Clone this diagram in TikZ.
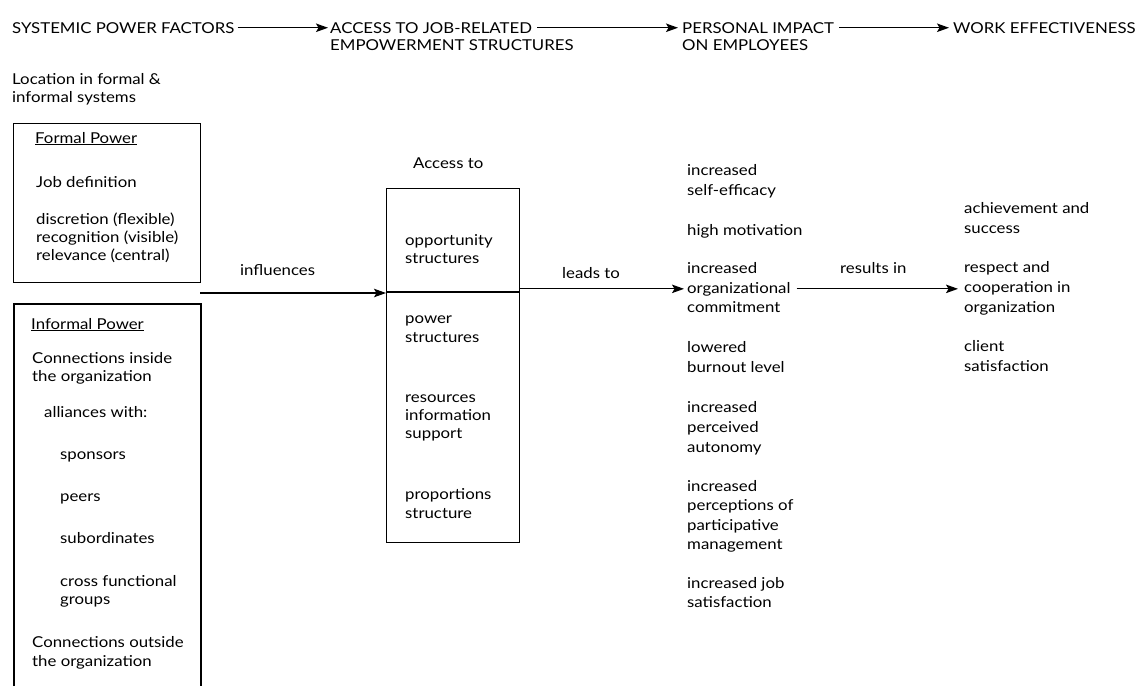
\documentclass[tikz,border=0pt]{standalone}
\usepackage{fontspec}
\setmainfont{Lato}[FakeStretch=1.12]
\usetikzlibrary{arrows.meta}
\begin{document}
\begin{tikzpicture}[x=1pt,y=-1pt,
  txt/.style={anchor=base west, inner sep=0pt, font=\fontsize{15}{18}\selectfont},
  ttl/.style={anchor=base west, inner sep=0pt, font=\fontsize{15}{18}\selectfont, text height=10.5pt, text depth=0pt},
  arr/.style={-{Stealth[length=12pt,width=8.5pt,inset=2.5pt]}, line width=1.1pt},
  box/.style={draw, line width=1.1pt, rectangle, inner sep=0pt, anchor=north west}]
\useasboundingbox (0,0) rectangle (1138,686);

% title row
\node[ttl] (t1) at (12,33) {SYSTEMIC POWER FACTORS};
\node[ttl] (t2) at (330,33) {ACCESS TO JOB-RELATED};
\node[ttl] (t2b) at (330,50) {EMPOWERMENT STRUCTURES};
\node[ttl] (t3) at (682,33) {PERSONAL IMPACT};
\node[ttl] (t3b) at (682,50) {ON EMPLOYEES};
\node[ttl] (t4) at (953,33) {WORK EFFECTIVENESS};
\draw[arr] ([xshift=3pt]t1.east) -- ([xshift=-2pt]t2.west);
\draw[arr] ([xshift=5pt]t2.east) -- ([xshift=-4pt]t3.west);
\draw[arr] ([xshift=5pt]t3.east) -- ([xshift=-4pt]t4.west);

% location
\node[txt] (loc1) at (12,84) {Location in formal \&};
\node[txt] (loc2) at (12,102) {informal systems};

% formal box
\node[box, minimum width=187pt, minimum height=159pt] (formal) at (13,123) {};
\node[txt] (f1) at (35,143) {\underline{Formal Power}};
\node[txt] (f2) at (36,187) {Job definition};
\node[txt] (f3) at (36,224) {discretion (flexible)};
\node[txt] (f4) at (36,242) {recognition (visible)};
\node[txt] (f5) at (36,260) {relevance (central)};

% informal box (open at bottom)
\coordinate (ib1) at (14,686);
\coordinate (ib2) at (14,304);
\coordinate (ib3) at (201,304);
\coordinate (ib4) at (201,686);
\draw[line width=1.1pt] (ib1) -- (ib2) -- (ib3) -- (ib4);
\node[txt] (i1) at (31,329) {\underline{Informal Power}};
\node[txt] (i2) at (32,363) {Connections inside};
\node[txt] (i3) at (32,381) {the organization};
\node[txt] (i4) at (44,417) {alliances with:};
\node[txt] (i5) at (60,459) {sponsors};
\node[txt] (i6) at (60,501) {peers};
\node[txt] (i7) at (60,543) {subordinates};
\node[txt] (i8) at (60,586) {cross functional};
\node[txt] (i9) at (60,604) {groups};
\node[txt] (i10) at (32,647) {Connections outside};
\node[txt] (i11) at (32,666) {the organization};

% influences
\coordinate (inf) at (200,293);
\node[txt] (infl) at (240,275) {influences};

% access box
\node[txt] (acct) at (413,168) {Access to};
\node[box, minimum width=133pt, minimum height=354pt] (acc) at (386,188) {};
\coordinate (div) at (386,292);
\draw[line width=1.1pt] (div) -- (acc.east |- div);
\draw[arr] (inf) -- (acc.west |- inf);
\node[txt] (a1) at (405,245) {opportunity};
\node[txt] (a2) at (405,263) {structures};
\node[txt] (a3) at (405,323) {power};
\node[txt] (a4) at (405,342) {structures};
\node[txt] (a5) at (405,402) {resources};
\node[txt] (a6) at (405,420) {information};
\node[txt] (a7) at (405,438) {support};
\node[txt] (a8) at (405,499) {proportions};
\node[txt] (a9) at (405,518) {structure};

% middle column
\foreach \yy/\t [count=\i] in {175/increased, 195/self-efficacy, 235/high motivation,
  273/increased, 293/organizational, 312/commitment, 352/lowered, 372/burnout level,
  412/increased, 432/perceived, 452/autonomy, 491/increased, 510/perceptions of,
  530/participative, 549/management, 588/increased job, 607/satisfaction}
  \node[txt] (m\i) at (687,\yy) {\t};

\node[txt] (leads) at (562,278) {leads to};
\draw[arr] (acc.east |- m5.west) -- ([xshift=-3pt]m5.west);

% right column
\foreach \yy/\t [count=\i] in {213/achievement and, 233/success, 272/respect and,
  292/cooperation in, 312/organization, 351/client, 371/satisfaction}
  \node[txt] (r\i) at (964,\yy) {\t};

\node[txt] (res) at (840,273) {results in};
\draw[arr] ([xshift=6pt]m5.east) -- ([xshift=-6pt]r4.west |- m5.east);
\end{tikzpicture}
\end{document}
